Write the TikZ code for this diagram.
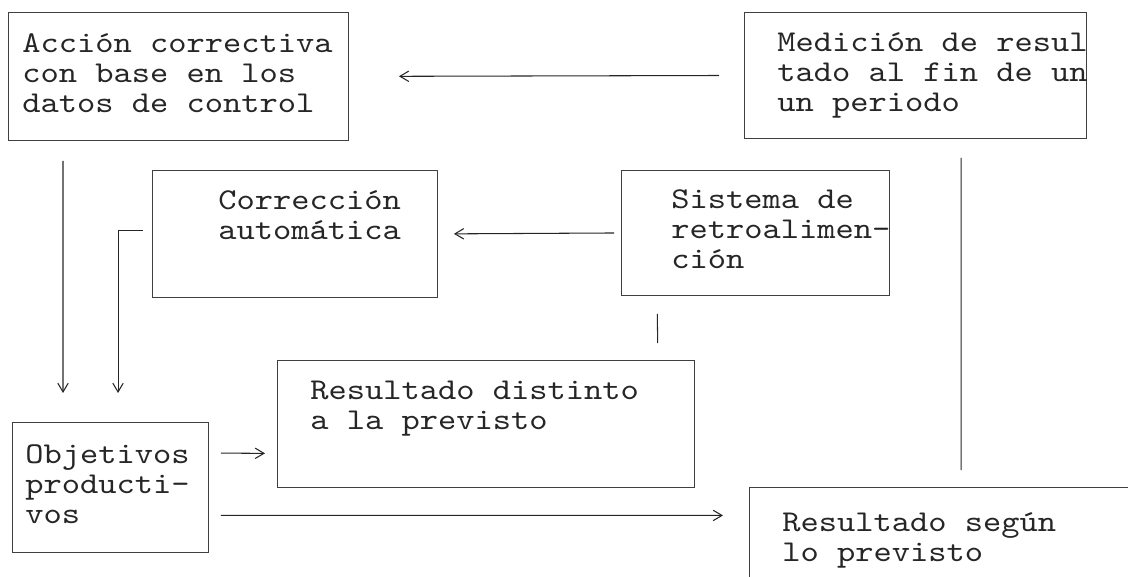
\documentclass[tikz,border=0pt]{standalone}
\usepackage{fontspec}
\setmonofont[FakeStretch=1.15]{lmmono10-regular.otf}
\usetikzlibrary{arrows.meta}
\usetikzlibrary{positioning}

\newcommand{\renglones}[3]{\makebox[#1][l]{\hspace*{#2}\begin{tabular}{@{}l@{}}#3\end{tabular}}}

\begin{document}
\begin{tikzpicture}[x=0.025cm,y=-0.025cm]
          \tikzstyle{bloque} = [draw=black!75, line width=0.6pt, inner sep=0pt, anchor=north west,
                                text=black!85, font=\ttfamily\fontsize{21.5}{21.3}\selectfont]
          \tikzstyle{linea} = [draw=black!85, line width=0.75pt]
          \tikzstyle{flecha} = [linea, -{Straight Barb[length=0.22cm,width=0.26cm]}]

          \useasboundingbox (0,0) rectangle (1128,577);
          \clip (0,0) rectangle (1128,577);

          % Nodes
          \node[bloque, minimum height=3.2cm] (accion) at (8,12)
            {\renglones{8.5cm}{0.35cm}{Acción correctiva\\con base en los\\datos de control}};
          \node[bloque, minimum height=3.15cm] (medicion) at (744,12)
            {\renglones{8.55cm}{0.825cm}{Medición de resul\\tado al fin de un\\un periodo}};
          \node[bloque, minimum height=3.175cm] (correccion) at (152,170)
            {\renglones{7.125cm}{1.65cm}{Corrección\\automática\\\mbox{}}};
          \node[bloque, minimum height=3.125cm] (sistema) at (621,170)
            {\renglones{6.7cm}{1.25cm}{Sistema de\\retroalimen-\\ción}};
          \node[bloque, minimum height=3.175cm] (distinto) at (277,360)
            {\renglones{10.425cm}{0.825cm}{Resultado distinto\\a la previsto\\\mbox{}}};
          \node[bloque, minimum height=3.25cm] (objetivos) at (12,422)
            {\renglones{4.9cm}{0.325cm}{Objetivos\\producti-\\vos}};
          \node[bloque, minimum height=2.65cm] (segun) at (749,487)
            {\renglones{10.5cm}{0.825cm}{Resultado según\\lo previsto}};

          % Edges
          \draw[flecha, shorten <=0.625cm, shorten >=1.25cm] (medicion.west) -- (accion.east);
          \draw[flecha, shorten <=0.175cm, shorten >=0.4cm] (sistema.west) -- (correccion.east);
          \draw[flecha, shorten <=0.5cm, shorten >=0.725cm]
            ([xshift=1.375cm]accion.south west) -- ([xshift=1.275cm]objetivos.north west);
          \draw[flecha, shorten <=0.225cm, shorten >=0.725cm]
            ([yshift=0.0875cm]correccion.west) -| ([xshift=2.65cm]objetivos.north west);
          \draw[flecha, shorten <=0.3cm, shorten >=0.3cm]
            ([yshift=-0.775cm]objetivos.north east) -- ([yshift=-0.7375cm]distinto.west);
          \draw[flecha, shorten <=0.3cm, shorten >=0.65cm]
            ([yshift=-0.7cm]objetivos.east) -- ([yshift=0.625cm]segun.west);
          \draw[linea, shorten <=0.45cm, shorten >=0.425cm]
            ([xshift=0.9cm]sistema.south west) -- ([xshift=-0.925cm]distinto.north east);
          \draw[linea, shorten <=0.475cm, shorten >=0.425cm]
            ([xshift=5.425cm]medicion.south west) -- ([xshift=5.3cm]segun.north west);

        \end{tikzpicture}
\end{document}
